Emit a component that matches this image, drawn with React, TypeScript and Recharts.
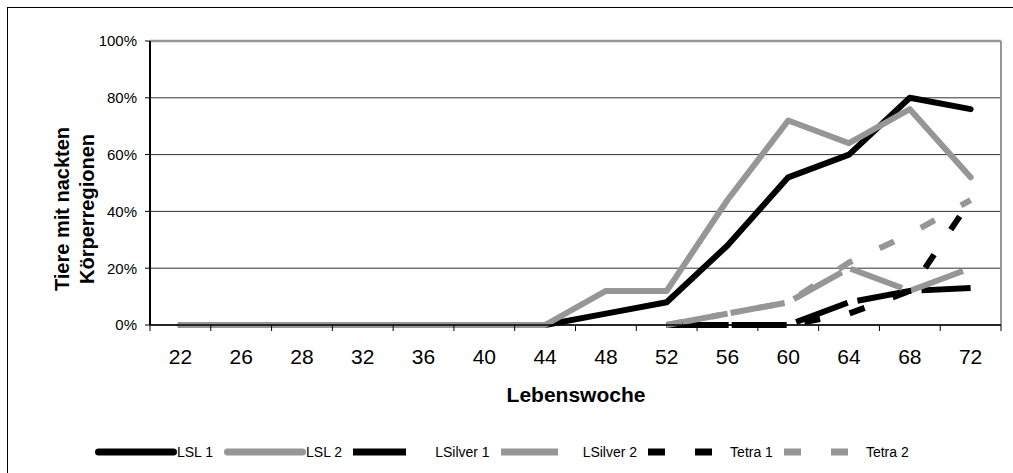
import React from "react";
import { LineChart, Line, XAxis, YAxis, CartesianGrid, ReferenceLine, Legend, Label } from "recharts";

// Lebenswoche categories (evenly spaced in the chart)
const weeks = ["22", "26", "28", "32", "36", "40", "44", "48", "52", "56", "60", "64", "68", "72"];

// % Tiere mit nackten Körperregionen
const lsl1 = [0, 0, 0, 0, 0, 0, 0, 4, 8, 28, 52, 60, 80, 76];
const lsl2 = [0, 0, 0, 0, 0, 0, 0, 12, 12, 44, 72, 64, 76, 52];
const lsilver1 = [null, null, null, null, null, null, null, null, 0, 0, 0, 8, 12, 13];
const lsilver2 = [null, null, null, null, null, null, null, null, 0, 4, 8, 20, 12, 20];
const tetra1 = [null, null, null, null, null, null, null, null, 0, 0, 0, 4, 12, 44];
const tetra2 = [null, null, null, null, null, null, null, null, 0, 4, 8, 22, 32, 44];

const yTicks = [0, 20, 40, 60, 80, 100];

const BLACK = "#000000";
const GREY = "#969696";

type Series = {
  key: string;
  name: string;
  color: string;
  values: (number | null)[];
  dash?: string;
  legendDash?: string;
  round: boolean;
};

const series: Series[] = [
  { key: "lsl1", name: "LSL 1", color: BLACK, values: lsl1, round: true },
  { key: "lsl2", name: "LSL 2", color: GREY, values: lsl2, round: true },
  { key: "lsilver1", name: "LSilver 1", color: BLACK, values: lsilver1, dash: "55 10", legendDash: "53 40", round: false },
  { key: "lsilver2", name: "LSilver 2", color: GREY, values: lsilver2, dash: "55 10", legendDash: "57 40", round: false },
  { key: "tetra1", name: "Tetra 1", color: BLACK, values: tetra1, dash: "16 30", legendDash: "17 30", round: false },
  { key: "tetra2", name: "Tetra 2", color: GREY, values: tetra2, dash: "16 30", legendDash: "17 30", round: false },
];

const data = weeks.map((w, i) => {
  const row: Record<string, number | string | null> = { i, week: w };
  series.forEach((s) => {
    row[s.key] = s.values[i];
  });
  return row;
});

// ticks at category centres (labels) and at the boundaries (tick marks)
const xTicks: number[] = [];
for (let k = 0; k <= weeks.length * 2; k++) xTicks.push(k / 2 - 0.5);

const WeekTick = (props: any) => {
  const { x, y, payload } = props;
  const v = payload.value;
  if (!Number.isInteger(v)) {
    return <line x1={x} x2={x} y1={y} y2={y + 6} stroke="#000" strokeWidth={1} />;
  }
  return (
    <text x={x} y={y + 39} textAnchor="middle" fontSize={21} fill="#000">
      {weeks[v]}
    </text>
  );
};

const LegendBox = () => (
  <div style={{ display: "flex", alignItems: "center", gap: 11, paddingLeft: 95, height: 20, fontSize: 14, color: "#000" }}>
    {series.map((s) => (
      <div key={s.key} style={{ display: "flex", alignItems: "center" }}>
        <svg width={82} height={10}>
          <line
            x1={s.round ? 3.5 : 0}
            x2={s.round ? 78.5 : 82}
            y1={5}
            y2={5}
            stroke={s.color}
            strokeWidth={7}
            strokeLinecap={s.round ? "round" : "butt"}
            strokeDasharray={s.legendDash}
          />
        </svg>
        <span>{s.name}</span>
      </div>
    ))}
  </div>
);

export default function App() {
  return (
    <div
      style={{
        position: "absolute",
        left: 0,
        top: 0,
        width: 1013,
        height: 473,
        overflow: "hidden",
        background: "#fff",
        fontFamily: "'Liberation Sans', Arial, sans-serif",
      }}
    >
      <div
        style={{
          position: "absolute",
          left: 7,
          top: 7,
          width: 1006,
          height: 466,
          borderLeft: "1px solid #000",
          borderTop: "1px solid #000",
        }}
      />
      <LineChart width={1013} height={473} data={data} margin={{ top: 41, right: 12, bottom: 88, left: 90 }}>
        <CartesianGrid vertical={false} stroke="#333" strokeWidth={1} />
        <XAxis
          dataKey="i"
          type="number"
          domain={[-0.5, 13.5]}
          ticks={xTicks}
          interval={0}
          tickLine={false}
          tickSize={0}
          tickMargin={0}
          tick={<WeekTick />}
          axisLine={{ stroke: "#000", strokeWidth: 1.5 }}
          height={60}
        >
          <Label
            content={() => (
              <text x={576} y={402} textAnchor="middle" fontSize={21} fontWeight="bold" fill="#000">
                Lebenswoche
              </text>
            )}
          />
        </XAxis>
        <YAxis
          domain={[0, 100]}
          ticks={yTicks}
          interval={0}
          tickFormatter={(v) => `${v}%`}
          tick={{ fontSize: 15, fill: "#000" }}
          tickSize={5}
          tickMargin={8}
          tickLine={{ stroke: "#000" }}
          axisLine={{ stroke: "#000", strokeWidth: 2 }}
          width={60}
        >
          <Label
            content={() => (
              <g fontSize={20} fontWeight="bold" fill="#000">
                <text x={62} y={209} textAnchor="middle" dominantBaseline="central" transform="rotate(-90 62 209)">
                  Tiere mit nackten
                </text>
                <text x={87} y={209} textAnchor="middle" dominantBaseline="central" transform="rotate(-90 87 209)">
                  Körperregionen
                </text>
              </g>
            )}
          />
        </YAxis>
        <ReferenceLine y={100} stroke={GREY} strokeWidth={2.5} />
        <ReferenceLine x={13.5} stroke={GREY} strokeWidth={2} />
        {series.map((s) => (
          <Line
            key={s.key}
            dataKey={s.key}
            name={s.name}
            stroke={s.color}
            strokeWidth={6}
            strokeDasharray={s.dash}
            strokeLinecap={s.round ? "round" : "butt"}
            strokeLinejoin="round"
            dot={false}
            activeDot={false}
            isAnimationActive={false}
          />
        ))}
        <Legend
          layout="horizontal"
          verticalAlign="middle"
          align="center"
          wrapperStyle={{ left: 0, top: 442, width: 1013 }}
          content={() => <LegendBox />}
        />
      </LineChart>
    </div>
  );
}
